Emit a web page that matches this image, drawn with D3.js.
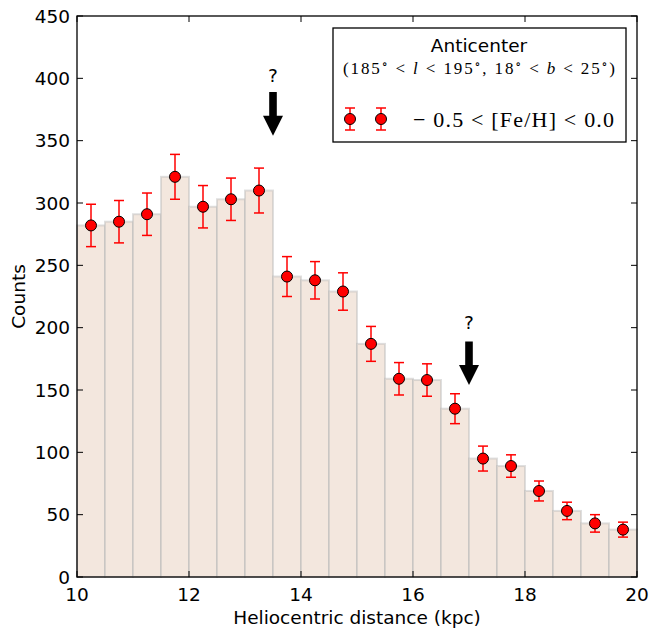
<!DOCTYPE html>
<html>
<head>
<meta charset="utf-8">
<script src="https://cdn.jsdelivr.net/npm/d3@7"></script>
<style>
  body { margin: 0; background: #fff; }
  text { font-family: "DejaVu Sans", sans-serif; }
  .math { font-family: "Liberation Serif", "DejaVu Serif", serif; }
</style>
</head>
<body>
<div id="chart"></div>
<script>
// bin centres (kpc), counts and poisson errors
var binCenters = [10.25, 10.75, 11.25, 11.75, 12.25, 12.75, 13.25, 13.75, 14.25, 14.75,
                  15.25, 15.75, 16.25, 16.75, 17.25, 17.75, 18.25, 18.75, 19.25, 19.75];
var counts = [282, 285, 291, 321, 297, 303, 310, 241, 238, 229,
              187, 159, 158, 135, 95, 89, 69, 53, 43, 38];
var errors = [17, 17, 17, 18, 17, 17, 18, 16, 15, 15,
              14, 13, 13, 12, 10, 9, 8, 7, 7, 6];
var binWidth = 0.5;
var xTicks = [10, 12, 14, 16, 18, 20];
var yTicks = [0, 50, 100, 150, 200, 250, 300, 350, 400, 450];
// arrows: x, tip, tail, "?" position
var arrows = [
    {x: 13.5, tip: 354, tail: 389, label: 402},
    {x: 17.0, tip: 154, tail: 189, label: 204}
];

var width = 651, height = 631;
var margin = {left: 77, right: 14, top: 16, bottom: 54};
var fs = "18.5px";

var svg = d3.select("#chart").append("svg")
    .attr("width", width)
    .attr("height", height);

var x = d3.scaleLinear().domain([10, 20]).range([margin.left, width - margin.right]);
var y = d3.scaleLinear().domain([0, 450]).range([height - margin.bottom, margin.top]);

// histogram bars
svg.append("g").selectAll("rect")
    .data(counts)
    .enter()
    .append("rect")
    .attr("x", (d, i) => x(binCenters[i] - binWidth / 2))
    .attr("width", (d, i) => x(binCenters[i] + binWidth / 2) - x(binCenters[i] - binWidth / 2))
    .attr("y", d => y(d))
    .attr("height", d => y(0) - y(d))
    .style("fill", "#f3e7de")
    .style("stroke", "#b8b8b8")
    .style("stroke-opacity", 0.45)
    .style("stroke-width", 2);

// error bars
var eb = svg.append("g").style("stroke", "#ff0000").style("stroke-width", 1.5);
counts.forEach(function (c, i) {
    var cx = x(binCenters[i]);
    eb.append("line").attr("x1", cx).attr("x2", cx)
        .attr("y1", y(c - errors[i])).attr("y2", y(c + errors[i]));
    eb.append("line").attr("x1", cx - 5).attr("x2", cx + 5)
        .attr("y1", y(c - errors[i])).attr("y2", y(c - errors[i]));
    eb.append("line").attr("x1", cx - 5).attr("x2", cx + 5)
        .attr("y1", y(c + errors[i])).attr("y2", y(c + errors[i]));
});

svg.append("g").selectAll("circle")
    .data(counts)
    .enter()
    .append("circle")
    .attr("cx", (d, i) => x(binCenters[i]))
    .attr("cy", d => y(d))
    .attr("r", 5.5)
    .style("fill", "#ff0000")
    .style("stroke", "#000")
    .style("stroke-width", 1);

// arrows with question marks
arrows.forEach(function (a) {
    var ax = x(a.x), tip = y(a.tip), tail = y(a.tail);
    var headH = 20, shaftW = 3.8, headW = 10;
    svg.append("path")
        .attr("d", `M${ax - shaftW},${tail} L${ax + shaftW},${tail} L${ax + shaftW},${tip - headH}
                    L${ax + headW},${tip - headH} L${ax},${tip} L${ax - headW},${tip - headH}
                    L${ax - shaftW},${tip - headH} Z`)
        .style("fill", "#000");
    svg.append("text")
        .attr("x", ax).attr("y", y(a.label))
        .attr("text-anchor", "middle")
        .attr("dominant-baseline", "central")
        .style("font-size", fs)
        .text("?");
});

// frame and ticks
var axG = svg.append("g");
axG.append("rect")
    .attr("x", x(10)).attr("y", y(450))
    .attr("width", x(20) - x(10)).attr("height", y(0) - y(450))
    .style("fill", "none").style("stroke", "#000").style("stroke-width", 1.3);

yTicks.forEach(function (t) {
    axG.append("line").attr("x1", x(10)).attr("x2", x(10) + 6)
        .attr("y1", y(t)).attr("y2", y(t)).style("stroke", "#000");
    axG.append("line").attr("x1", x(20)).attr("x2", x(20) - 6)
        .attr("y1", y(t)).attr("y2", y(t)).style("stroke", "#000");
    axG.append("text")
        .attr("x", x(10) - 7).attr("y", y(t))
        .attr("text-anchor", "end")
        .attr("dominant-baseline", "central")
        .style("font-size", fs)
        .text(t);
});

xTicks.forEach(function (t) {
    axG.append("line").attr("x1", x(t)).attr("x2", x(t))
        .attr("y1", y(0)).attr("y2", y(0) - 6).style("stroke", "#000");
    axG.append("line").attr("x1", x(t)).attr("x2", x(t))
        .attr("y1", y(450)).attr("y2", y(450) + 6).style("stroke", "#000");
    axG.append("text")
        .attr("x", x(t)).attr("y", y(0) + 17)
        .attr("text-anchor", "middle")
        .attr("dominant-baseline", "central")
        .style("font-size", fs)
        .text(t);
});

svg.append("text")
    .attr("x", (x(10) + x(20)) / 2).attr("y", 617)
    .attr("text-anchor", "middle")
    .attr("dominant-baseline", "central")
    .style("font-size", fs)
    .text("Heliocentric distance (kpc)");

svg.append("text")
    .attr("transform", `translate(18,${(y(0) + y(450)) / 2})rotate(-90)`)
    .attr("text-anchor", "middle")
    .attr("dominant-baseline", "central")
    .style("font-size", fs)
    .text("Counts");

// legend
var lg = svg.append("g");
lg.append("rect")
    .attr("x", 333).attr("y", 28).attr("width", 293).attr("height", 114)
    .style("fill", "#fff").style("stroke", "#000").style("stroke-width", 1.3);

lg.append("text")
    .attr("x", 479).attr("y", 45)
    .attr("text-anchor", "middle")
    .attr("dominant-baseline", "central")
    .style("font-size", fs)
    .text("Anticenter");

var sub = lg.append("text")
    .attr("class", "math")
    .attr("x", 343).attr("y", 68)
    .attr("dominant-baseline", "central")
    .attr("textLength", 272)
    .attr("lengthAdjust", "spacing")
    .style("font-size", "17px");
sub.append("tspan").text("(185");
sub.append("tspan").attr("dy", -4).style("font-size", "12px").text("\u2218");
sub.append("tspan").attr("dy", 4).text(" < ");
sub.append("tspan").style("font-style", "italic").text("l");
sub.append("tspan").text(" < 195");
sub.append("tspan").attr("dy", -4).style("font-size", "12px").text("\u2218");
sub.append("tspan").attr("dy", 4).text(", 18");
sub.append("tspan").attr("dy", -4).style("font-size", "12px").text("\u2218");
sub.append("tspan").attr("dy", 4).text(" < ");
sub.append("tspan").style("font-style", "italic").text("b");
sub.append("tspan").text(" < 25");
sub.append("tspan").attr("dy", -4).style("font-size", "12px").text("\u2218");
sub.append("tspan").attr("dy", 4).text(")");

[350, 381].forEach(function (mx) {
    var my = 119;
    lg.append("line").attr("x1", mx).attr("x2", mx).attr("y1", my - 11).attr("y2", my + 11)
        .style("stroke", "#ff0000").style("stroke-width", 1.5);
    lg.append("line").attr("x1", mx - 5).attr("x2", mx + 5).attr("y1", my - 11).attr("y2", my - 11)
        .style("stroke", "#ff0000").style("stroke-width", 1.5);
    lg.append("line").attr("x1", mx - 5).attr("x2", mx + 5).attr("y1", my + 11).attr("y2", my + 11)
        .style("stroke", "#ff0000").style("stroke-width", 1.5);
    lg.append("circle").attr("cx", mx).attr("cy", my).attr("r", 5.5)
        .style("fill", "#ff0000").style("stroke", "#000");
});

lg.append("text")
    .attr("class", "math")
    .attr("x", 413).attr("y", 119)
    .attr("dominant-baseline", "central")
    .attr("textLength", 201)
    .attr("lengthAdjust", "spacing")
    .style("font-size", "22px")
    .text("\u2212 0.5 < [Fe/H] < 0.0");
</script>
</body>
</html>
